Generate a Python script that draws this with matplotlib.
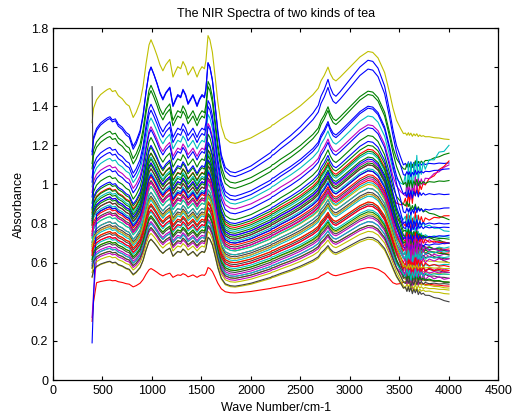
import numpy as np
import matplotlib
matplotlib.use("Agg")
import matplotlib.pyplot as plt

plt.rcParams["font.family"] = ["Liberation Sans", "DejaVu Sans"]

# ---------------------------------------------------------------------------
# Shared spectral shape, read off the top (yellow) spectrum
# ---------------------------------------------------------------------------

# low band 395-1840 cm-1: (wavenumber, fraction of the ~1000 peak height)
lo_knots = [(395, 0.20), (410, 0.34), (440, 0.42), (480, 0.47), (520, 0.50),
            (550, 0.52), (575, 0.53), (600, 0.50), (630, 0.51), (660, 0.46),
            (700, 0.43), (740, 0.38), (770, 0.36), (810, 0.25), (840, 0.30),
            (880, 0.40), (910, 0.55), (940, 0.77), (970, 0.95), (990, 1.00),
            (1020, 0.93), (1050, 0.85), (1080, 0.76), (1110, 0.70), (1140, 0.76),
            (1180, 0.81), (1212, 0.64), (1240, 0.70), (1260, 0.74), (1290, 0.72),
            (1313, 0.79), (1340, 0.74), (1364, 0.66), (1390, 0.70), (1414, 0.74),
            (1435, 0.69), (1455, 0.64), (1480, 0.70), (1505, 0.74), (1530, 0.72),
            (1545, 0.80), (1566, 1.04), (1585, 1.00), (1610, 0.88), (1636, 0.66),
            (1665, 0.40), (1700, 0.17), (1740, 0.05), (1790, 0.01), (1840, 0.00)]

# high band: (wavenumber, fraction of the ~3200 hump, weight of tail level)
hi_knots = [(1900, 0.02, 0), (2000, 0.06, 0), (2100, 0.12, 0), (2200, 0.18, 0),
            (2215, 0.20, 0), (2230, 0.205, 0), (2300, 0.26, 0), (2400, 0.33, 0),
            (2500, 0.41, 0), (2626, 0.53, 0), (2680, 0.60, 0), (2707, 0.68, 0),
            (2740, 0.74, 0), (2778, 0.83, 0), (2800, 0.76, 0), (2830, 0.70, 0),
            (2858, 0.68, 0), (2900, 0.72, 0), (3000, 0.83, 0), (3100, 0.94, 0),
            (3182, 1.00, 0), (3230, 0.99, 0), (3283, 0.93, 0), (3350, 0.77, 0),
            (3400, 0.55, 0), (3434, 0.38, 0.05), (3470, 0.22, 0.3),
            (3515, 0.08, 0.7), (3540, 0.00, 1.0)]

# noisy water band and tail: (wavenumber, jag A, jag B)
tail_knots = [(3560, 0.5, -0.3), (3575, -0.8, 0.9), (3590, 1.0, -0.2), (3600, -0.6, 0.7),
              (3615, 0.9, -1.0), (3630, -1.0, 0.4), (3645, 0.7, -0.6), (3660, -0.4, 1.0),
              (3675, 1.0, -0.5), (3690, -0.7, 0.6), (3705, 0.5, -0.2), (3720, -0.3, 0.4),
              (3740, 0.3, -0.3), (3760, -0.2, 0.2), (3800, 0.15, -0.1), (3850, -0.1, 0.1),
              (3900, 0.1, -0.05), (3950, -0.1, 0.08), (4000, 0.0, 0.0)]

# ---------------------------------------------------------------------------
# Per-spectrum values (colour order b g r c m y k)
# ---------------------------------------------------------------------------

base = [1.06, 1.007, 0.78, 0.90, 0.875, 1.21, 0.70,
        1.04, 0.98, 0.72, 0.76, 0.74, 0.66, 0.68,
        0.94, 0.82, 0.64, 0.71, 0.62, 0.60, 0.72,
        0.92, 0.79, 0.445, 0.66, 0.58, 0.56, 0.63,
        0.85, 0.77, 0.69, 0.61, 0.54, 0.52, 0.59,
        0.80, 0.75, 0.67, 0.57, 0.53, 0.475, 0.55,
        0.74, 0.73, 0.60, 0.64, 0.51, 0.50, 0.48,
        0.70, 0.56, 0.58, 0.53, 0.67, 0.62, 0.52]

amp_lo = [0.54, 0.50, 0.38, 0.44, 0.42, 0.53, 0.35,
          0.56, 0.50, 0.36, 0.38, 0.37, 0.33, 0.34,
          0.47, 0.42, 0.32, 0.35, 0.31, 0.30, 0.36,
          0.46, 0.40, 0.125, 0.33, 0.29, 0.28, 0.31,
          0.43, 0.39, 0.35, 0.31, 0.27, 0.26, 0.30,
          0.40, 0.38, 0.34, 0.29, 0.27, 0.245, 0.28,
          0.37, 0.37, 0.30, 0.32, 0.26, 0.25, 0.24,
          0.35, 0.28, 0.29, 0.27, 0.34, 0.31, 0.26]

amp_hi = [0.575, 0.47, 0.40, 0.45, 0.43, 0.47, 0.37,
          0.55, 0.48, 0.38, 0.40, 0.38, 0.34, 0.36,
          0.46, 0.43, 0.34, 0.37, 0.33, 0.31, 0.38,
          0.47, 0.41, 0.13, 0.35, 0.31, 0.29, 0.33,
          0.44, 0.40, 0.36, 0.33, 0.29, 0.27, 0.31,
          0.42, 0.39, 0.35, 0.30, 0.28, 0.245, 0.29,
          0.39, 0.38, 0.31, 0.34, 0.27, 0.26, 0.25,
          0.37, 0.30, 0.31, 0.28, 0.36, 0.33, 0.27]

level_3550 = [1.10, 1.08, 0.90, 1.00, 0.95, 1.26, 0.70,
              1.05, 1.00, 0.80, 0.82, 0.72, 0.62, 0.64,
              0.95, 0.90, 0.68, 0.74, 0.63, 0.56, 0.68,
              0.86, 0.76, 0.50, 0.66, 0.60, 0.52, 0.58,
              0.80, 0.74, 0.72, 0.62, 0.56, 0.50, 0.55,
              0.78, 0.70, 0.66, 0.58, 0.55, 0.47, 0.52,
              0.72, 0.68, 0.60, 0.64, 0.53, 0.48, 0.47,
              0.68, 0.53, 0.57, 0.54, 0.68, 0.58, 0.50]

level_4000 = [1.11, 1.16, 1.12, 1.20, 1.10, 1.23, 0.60,
              1.08, 1.02, 0.84, 0.76, 0.70, 0.60, 0.62,
              0.95, 0.82, 0.67, 0.73, 0.64, 0.54, 0.66,
              0.88, 0.70, 0.48, 0.68, 0.62, 0.50, 0.55,
              0.80, 0.72, 0.70, 0.63, 0.57, 0.47, 0.52,
              0.78, 0.66, 0.65, 0.59, 0.55, 0.44, 0.50,
              0.74, 0.64, 0.58, 0.66, 0.52, 0.46, 0.40,
              0.70, 0.50, 0.56, 0.54, 0.66, 0.57, 0.49]

# noise height in the water band; sign picks pattern A (+) or B (-)
noise = [0.015, -0.02, 0.04, 0.09, -0.05, 0.008, 0.015,
         -0.015, 0.02, -0.05, 0.04, 0.06, -0.015, 0.02,
         0.02, -0.02, 0.04, -0.04, -0.06, 0.012, -0.02,
         -0.02, 0.02, 0.008, 0.04, 0.05, -0.012, 0.02,
         0.02, -0.02, -0.04, 0.03, 0.06, 0.012, -0.02,
         -0.02, 0.02, 0.04, -0.03, -0.05, 0.012, 0.02,
         0.02, -0.02, -0.04, 0.04, 0.06, -0.012, 0.015,
         -0.02, 0.02, 0.04, -0.03, -0.06, 0.012, -0.02]

# first two readings of spectra that start with a spike
start_override = {6: (1.50, 0.85), 23: (0.30, 0.40), 49: (0.19, 0.42), 46: (0.32, 0.45)}

matlab_colors = [(0, 0, 1), (0, 0.5, 0), (1, 0, 0), (0, 0.75, 0.75),
                 (0.75, 0, 0.75), (0.75, 0.75, 0), (0.25, 0.25, 0.25)]

# ---------------------------------------------------------------------------
# Assemble knot grid
# ---------------------------------------------------------------------------

lo_x = [k[0] for k in lo_knots]
hi_x = [k[0] for k in hi_knots]
tl_x = [k[0] for k in tail_knots]
wn = np.array(lo_x + hi_x + tl_x, dtype=float)

n_lo, n_hi, n_tl = len(lo_x), len(hi_x), len(tl_x)
lo_c = np.array([k[1] for k in lo_knots] + [0] * (n_hi + n_tl))
hi_c = np.array([0] * n_lo + [k[1] for k in hi_knots] + [0] * n_tl)
tw_c = np.array([0] * n_lo + [k[2] for k in hi_knots] + [1] * n_tl, dtype=float)
jag_a = np.array([0] * (n_lo + n_hi) + [k[1] for k in tail_knots])
jag_b = np.array([0] * (n_lo + n_hi) + [k[2] for k in tail_knots])
frac = np.clip((wn - 3540) / 460.0, 0, 1)

# ---------------------------------------------------------------------------
# Figure
# ---------------------------------------------------------------------------

fig = plt.figure(figsize=(5.13, 4.18), dpi=100)
ax = fig.add_axes([0.1033, 0.0909, 0.8684, 0.8421])

for i in range(len(base)):
    tail_level = level_3550[i] + (level_4000[i] - level_3550[i]) * frac
    jag = jag_a if noise[i] > 0 else jag_b
    y = (base[i] + amp_lo[i] * lo_c + amp_hi[i] * hi_c
         + tw_c * (tail_level - base[i]) + abs(noise[i]) * jag)
    if i in start_override:
        y[0], y[1] = start_override[i]
    ax.plot(wn, y, color=matlab_colors[i % 7], lw=0.8)

ax.set_xlim(0, 4500)
ax.set_ylim(0, 1.8)
ax.set_xticks(np.arange(0, 4501, 500))
ax.set_yticks(np.arange(0, 1.81, 0.2))
ax.set_yticklabels(["0", "0.2", "0.4", "0.6", "0.8", "1", "1.2", "1.4", "1.6", "1.8"])
ax.tick_params(direction="in", top=True, right=True, length=3, width=0.8,
               labelsize=9, colors="black")
for s in ax.spines.values():
    s.set_linewidth(0.9)

ax.set_title("The NIR Spectra of two kinds of tea", fontsize=9, pad=8)
ax.set_xlabel("Wave Number/cm-1", fontsize=9, labelpad=4)
ax.set_ylabel("Absorbance", fontsize=9, labelpad=4)

fig.savefig("out.png", dpi=100)
